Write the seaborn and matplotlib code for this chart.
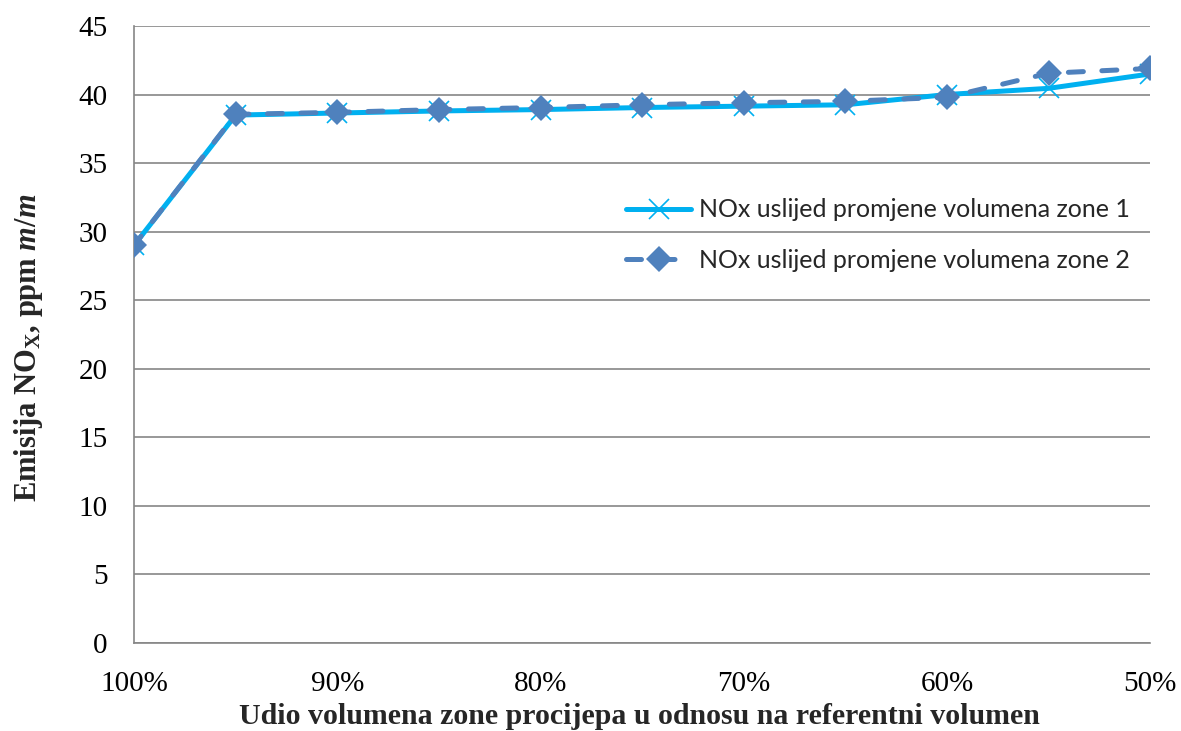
import matplotlib
matplotlib.use("Agg")
import matplotlib.pyplot as plt
import seaborn as sns
import pandas as pd

udio = [100, 95, 90, 85, 80, 75, 70, 65, 60, 55, 50]
zona1 = [29.0, 38.5, 38.65, 38.8, 38.9, 39.05, 39.15, 39.25, 40.0, 40.45, 41.5]
zona2 = [29.0, 38.55, 38.7, 38.9, 39.05, 39.25, 39.4, 39.5, 39.8, 41.55, 41.9]
xticks = [100, 90, 80, 70, 60, 50]
xtick_labels = ["100%", "90%", "80%", "70%", "60%", "50%"]
yticks = list(range(0, 46, 5))
label1 = "NOx uslijed promjene volumena zone 1"
label2 = "NOx uslijed promjene volumena zone 2"

sns.set_theme(style="white")
plt.rcParams["font.family"] = ["Liberation Serif", "DejaVu Serif"]
plt.rcParams["mathtext.fontset"] = "custom"
plt.rcParams["mathtext.rm"] = "Liberation Serif:bold"
plt.rcParams["mathtext.it"] = "Liberation Serif:bold:italic"
plt.rcParams["mathtext.bf"] = "Liberation Serif:bold"

fig = plt.figure(figsize=(11.81, 7.31), dpi=100)
ax = fig.add_axes([0.1135, 0.1205, 0.8605, 0.844])

df1 = pd.DataFrame({"udio": udio, "nox": zona1})
df2 = pd.DataFrame({"udio": udio, "nox": zona2})

sns.lineplot(data=df1, x="udio", y="nox", ax=ax, color="#00B0F0", linewidth=3.6,
             marker="x", markersize=14, markeredgewidth=1.2, markeredgecolor="#00B0F0",
             label=label1, zorder=3)
sns.lineplot(data=df2, x="udio", y="nox", ax=ax, color="#4F81BD", linewidth=3.6,
             linestyle=(0, (3.0, 3.7)), dash_capstyle="round", marker="D", markersize=13,
             markeredgewidth=0, label=label2, zorder=4)

ax.set_xlim(100, 50)
ax.set_ylim(0, 45)
ax.set_xticks(xticks)
ax.set_xticklabels(xtick_labels)
ax.set_yticks(yticks)
ax.tick_params(axis="both", labelsize=21, length=0, colors="black")
ax.tick_params(axis="x", pad=20)
ax.tick_params(axis="y", pad=19)
ax.yaxis.grid(True, color="#868686", linewidth=1.2)
ax.xaxis.grid(False)
for s in ["top", "right"]:
    ax.spines[s].set_visible(False)
for s in ["left", "bottom"]:
    ax.spines[s].set_color("#868686")
    ax.spines[s].set_linewidth(1.2)

ax.set_xlabel("Udio volumena zone procijepa u odnosu na referentni volumen",
              fontsize=21.5, fontweight="bold")
ax.set_ylabel(r"Emisija NO$_{\rm X}$, ppm $m/m$", fontsize=22, fontweight="bold")
ax.xaxis.set_label_coords(0.4975, -0.098)
ax.yaxis.set_label_coords(-0.088, 0.478)

leg = ax.legend(loc="upper left", bbox_to_anchor=(0.462, 0.757), frameon=False,
                prop={"family": "Lato", "size": 18}, handlelength=2.6,
                handletextpad=0.3, labelspacing=1.1)

fig.savefig("out.png", dpi=100)
